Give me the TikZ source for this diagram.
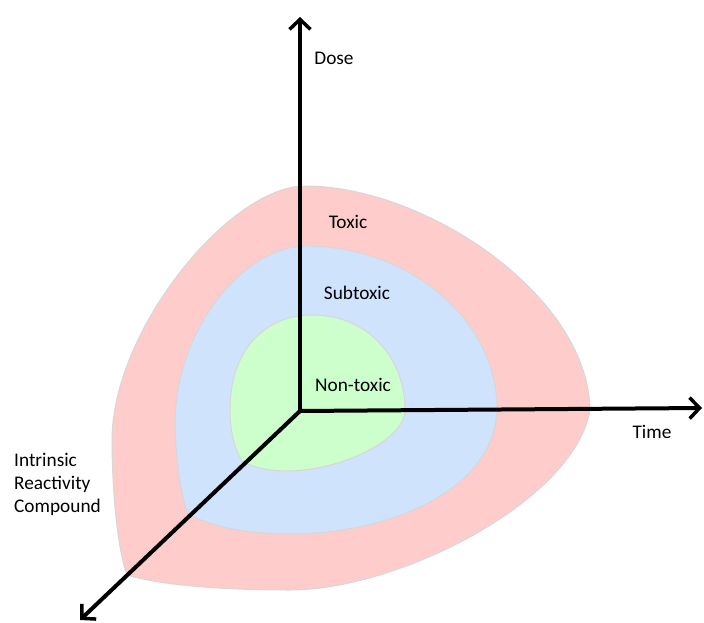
\documentclass[tikz,border=0pt]{standalone}
\usepackage{fontspec}
\setmainfont{Carlito}
\usetikzlibrary{arrows.meta}
\definecolor{toxred}{RGB}{255,204,204}
\definecolor{subblue}{RGB}{207,227,252}
\definecolor{nongreen}{RGB}{204,255,204}
\definecolor{rim}{RGB}{215,215,215}
\tikzset{
  zone/.style={draw=rim, line width=1pt},
  axis/.style={line width=4pt, -{Straight Barb[length=10pt,width=21pt,line width=3.5pt]}},
  lbl/.style={font=\fontsize{19.3pt}{23pt}\selectfont, inner sep=0pt, anchor=base},
}
\begin{document}
\begin{tikzpicture}[x=1pt,y=-1pt]
\useasboundingbox (0,0) rectangle (704,623);
% outer toxic region: corner at lower left, smooth elsewhere
\path[zone, fill=toxred]
  (127,575) .. controls (116,545) and (112,480) .. (112,440)
  .. controls (112,330) and (230,186) .. (305,186)
  .. controls (425,186) and (588,295) .. (590,410)
  .. controls (575,500) and (400,590) .. (290,590)
  .. controls (220,590) and (160,585) .. (127,575) -- cycle;
% subtoxic region
\path[zone, fill=subblue]
  (188,514) .. controls (180,495) and (175,450) .. (175,420)
  .. controls (178,320) and (250,246) .. (305,246)
  .. controls (410,246) and (497,320) .. (497,409)
  .. controls (495,490) and (390,534) .. (290,534)
  .. controls (245,534) and (210,526) .. (188,514) -- cycle;
% non-toxic region
\path[zone, fill=nongreen]
  (242,461) .. controls (234,448) and (230,430) .. (230,410)
  .. controls (230,350) and (265,315) .. (312,315)
  .. controls (370,315) and (405,360) .. (405,410)
  .. controls (405,440) and (340,471) .. (287,471)
  .. controls (268,471) and (252,467) .. (242,461) -- cycle;
% axes
\coordinate (O) at (300,411);
\coordinate (doseEnd) at (300,17);
\coordinate (timeEnd) at (702,408);
\coordinate (irEnd) at (80,620);
\draw[axis] (O) -- (doseEnd);
\draw[axis] (O) -- (timeEnd);
\draw[axis] (O) -- (irEnd);
\fill (O) circle (2pt);
% labels
\node[lbl] (dose) at (334,65) {Dose};
\node[lbl] (time) at (652,438) {Time};
\node[lbl] (toxic) at (348,228) {Toxic};
\node[lbl] (subtoxic) at (357,299) {Subtoxic};
\node[lbl] (nontoxic) at (353,391) {Non-toxic};
\node[lbl, anchor=base west, align=left] (irc) at (14,512) {Intrinsic\\Reactivity\\Compound};
\end{tikzpicture}
\end{document}
